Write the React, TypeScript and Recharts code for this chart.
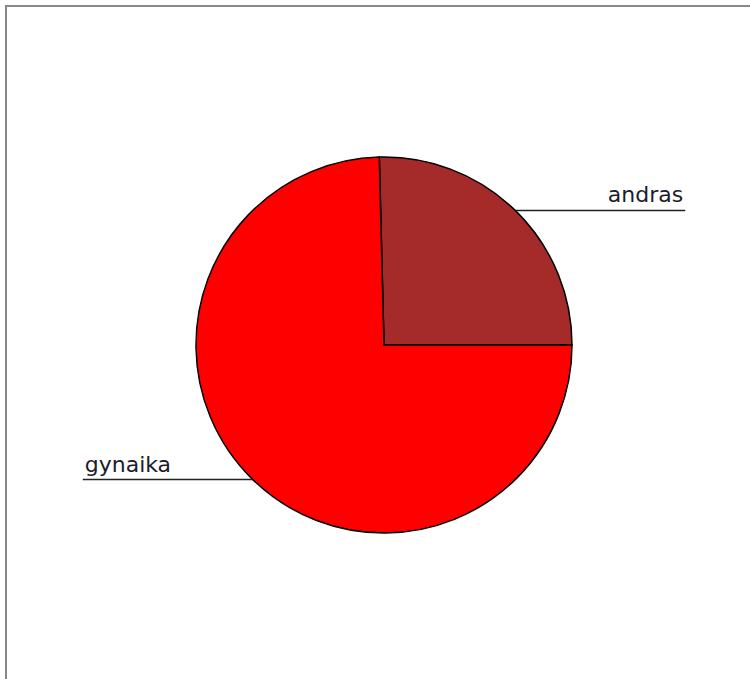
import { Cell, Pie, PieChart } from "recharts";

const categories = ["andras", "gynaika"];
const shares = [25.4, 74.6];
const sliceColors = ["#A52A2A", "#FF0000"];

const data = categories.map((name, i) => ({ name, value: shares[i] }));

const RADIAN = Math.PI / 180;
const LEADER = 170;

const renderLabel = (props: any) => {
  const { cx, cy, midAngle, outerRadius, name } = props;
  const cos = Math.cos(-midAngle * RADIAN);
  const sin = Math.sin(-midAngle * RADIAN);
  const x0 = cx + outerRadius * cos;
  const y0 = cy + outerRadius * sin;
  const right = cos >= 0;
  const x1 = x0 + (right ? LEADER : -LEADER);
  return (
    <g>
      <line x1={x0} y1={y0} x2={x1} y2={y0} stroke="#222" strokeWidth={1.5} />
      <text
        x={right ? x1 - 2 : x1 + 2}
        y={y0 - 8}
        textAnchor={right ? "end" : "start"}
        fill="#1c1c2c"
        fontSize={22}
        fontFamily="'DejaVu Sans', Verdana, sans-serif"
      >
        {name}
      </text>
    </g>
  );
};

export default function App() {
  return (
    <div style={{ position: "absolute", left: 0, top: 0, width: 750, height: 679, background: "#fff", overflow: "hidden" }}>
      <div
        style={{
          position: "absolute",
          left: 5,
          top: 5,
          width: 800,
          height: 800,
          borderLeft: "2px solid #888",
          borderTop: "2px solid #888"
        }}
      />
      <div style={{ position: "absolute", left: 0, top: 0 }}>
        <PieChart width={750} height={679} margin={{ top: 0, right: 0, bottom: 0, left: 0 }}>
          <Pie
            data={data}
            dataKey="value"
            nameKey="name"
            cx={384}
            cy={345}
            outerRadius={188}
            startAngle={0}
            endAngle={360}
            stroke="#000"
            strokeWidth={1.5}
            label={renderLabel}
            labelLine={false}
            isAnimationActive={false}
          >
            {data.map((d, i) => (
              <Cell key={d.name} fill={sliceColors[i]} />
            ))}
          </Pie>
        </PieChart>
      </div>
    </div>
  );
}
